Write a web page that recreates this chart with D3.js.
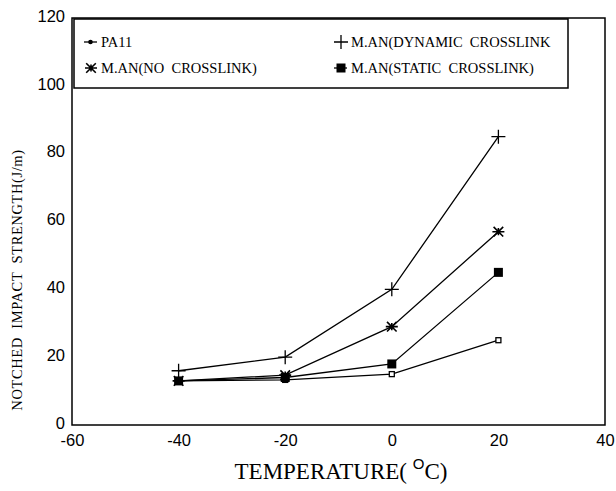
<!DOCTYPE html>
<html>
<head>
<meta charset="utf-8">
<script src="https://cdn.jsdelivr.net/npm/d3@7"></script>
<style>
  body { margin: 0; background: #fff; }
  svg text { fill: #000; }
</style>
</head>
<body>
<svg id="chart" width="616" height="491"></svg>
<script>
var temps = [-40, -20, 0, 20];
var pa11 = [13, 13.3, 15, 25];
var dynamic = [16, 20, 40, 85];
var noCross = [13, 14.7, 29, 57];
var staticCross = [13, 14, 18, 45];
var xTicks = [-60, -40, -20, 0, 20, 40];
var yTicks = [0, 20, 40, 60, 80, 100, 120];

var series = [
  { name: 'PA11', values: pa11, mark: 'open' },
  { name: 'M.AN(DYNAMIC  CROSSLINK', values: dynamic, mark: 'plus' },
  { name: 'M.AN(NO  CROSSLINK)', values: noCross, mark: 'star' },
  { name: 'M.AN(STATIC  CROSSLINK)', values: staticCross, mark: 'square' }
];

(function(){
var svg = d3.select('#chart'),
  pLeft = 72, pRight = 605, pTop = 18, pBottom = 425;

var x = d3.scaleLinear().domain([-60, 40]).range([pLeft, pRight]);
var y = d3.scaleLinear().domain([0, 120]).range([pBottom, pTop]);

// frame
svg.append('rect')
  .attr('x', pLeft).attr('y', pTop)
  .attr('width', pRight - pLeft).attr('height', pBottom - pTop)
  .attr('fill', 'none').attr('stroke', '#000').attr('stroke-width', 1.5);

// axes (labels only, no tick marks)
var xAxis = svg.append('g').attr('transform', 'translate(0,' + pBottom + ')')
  .call(d3.axisBottom(x).tickValues(xTicks).tickFormat(String).tickSize(0).tickPadding(9));
var yAxis = svg.append('g').attr('transform', 'translate(' + pLeft + ',0)')
  .call(d3.axisLeft(y).tickValues(yTicks).tickFormat(String).tickSize(0).tickPadding(7));
[xAxis, yAxis].forEach(function(a){
  a.select('.domain').remove();
  a.selectAll('text').attr('font-family', 'Liberation Sans, Arial, sans-serif')
    .attr('font-size', 16.5).attr('fill', '#000');
});
yAxis.selectAll('text').attr('dy', '0.2em');

var drawMark = function(g, type, cx, cy){
  if(type === 'open'){
    g.append('rect').attr('x', cx - 2.5).attr('y', cy - 2.5).attr('width', 5).attr('height', 5)
      .attr('fill', '#fff').attr('stroke', '#000').attr('stroke-width', 1.3);
  } else if(type === 'square'){
    g.append('rect').attr('x', cx - 4.5).attr('y', cy - 4.5).attr('width', 9).attr('height', 9)
      .attr('fill', '#000');
  } else if(type === 'plus'){
    g.append('path').attr('d', 'M' + (cx - 7) + ',' + cy + 'h14M' + cx + ',' + (cy - 7) + 'v14')
      .attr('stroke', '#000').attr('stroke-width', 1.3);
  } else if(type === 'star'){
    var r = 6;
    g.append('path')
      .attr('d', 'M' + (cx - r) + ',' + cy + 'h' + 2 * r +
        'M' + (cx - r * 0.8) + ',' + (cy - r * 0.8) + 'l' + 1.6 * r + ',' + 1.6 * r +
        'M' + (cx - r * 0.8) + ',' + (cy + r * 0.8) + 'l' + 1.6 * r + ',' + (-1.6 * r) +
        'M' + cx + ',' + (cy - r * 0.6) + 'v' + 1.2 * r)
      .attr('stroke', '#000').attr('stroke-width', 1.6);
  }
};

var line = d3.line().x(function(d, i){ return x(temps[i]); }).y(function(d){ return y(d); });

series.forEach(function(s){
  var g = svg.append('g');
  g.append('path').attr('d', line(s.values))
    .attr('fill', 'none').attr('stroke', '#000').attr('stroke-width', 1.3);
  s.values.forEach(function(v, i){ drawMark(g, s.mark, x(temps[i]), y(v)); });
});

// legend
var lg = svg.append('g');
lg.append('rect').attr('x', 74).attr('y', 19).attr('width', 494).attr('height', 69)
  .attr('fill', '#fff').attr('stroke', '#000').attr('stroke-width', 1.5);
var legendPos = [[84, 42], [334, 42], [84, 68], [334, 68]];
series.forEach(function(s, i){
  var p = legendPos[i], g = lg.append('g');
  if(s.mark === 'open'){
    g.append('line').attr('x1', p[0]).attr('x2', p[0] + 13).attr('y1', p[1]).attr('y2', p[1])
      .attr('stroke', '#000').attr('stroke-width', 1.3);
    g.append('circle').attr('cx', p[0] + 6.5).attr('cy', p[1]).attr('r', 2.3).attr('fill', '#000');
  } else if(s.mark === 'square'){
    g.append('line').attr('x1', p[0]).attr('x2', p[0] + 13).attr('y1', p[1]).attr('y2', p[1])
      .attr('stroke', '#000').attr('stroke-width', 1.3);
    drawMark(g, 'square', p[0] + 7, p[1]);
  } else {
    drawMark(g, s.mark, p[0] + 7, p[1]);
  }
  g.append('text').attr('x', p[0] + 17).attr('y', p[1] + 5)
    .attr('font-family', 'Liberation Serif, Times New Roman, serif').attr('font-size', 14.5)
    .style('white-space', 'pre').text(s.name);
});

// axis titles
svg.append('text').attr('transform', 'translate(22,280) rotate(-90)')
  .attr('text-anchor', 'middle')
  .attr('font-family', 'Liberation Serif, Times New Roman, serif').attr('font-size', 14.5)
  .attr('letter-spacing', 0.6)
  .style('white-space', 'pre').text('NOTCHED  IMPACT  STRENGTH(J/m)');

var xt = svg.append('text').attr('x', 341).attr('y', 479).attr('text-anchor', 'middle')
  .attr('font-family', 'Liberation Serif, Times New Roman, serif').attr('font-size', 23)
  .style('white-space', 'pre');
xt.append('tspan').text('TEMPERATURE( ');
xt.append('tspan').attr('dy', -10).attr('font-size', 15).attr('font-family', 'Liberation Sans, Arial, sans-serif').text('O');
xt.append('tspan').attr('dy', 10).text('C)');
})();
</script>
</body>
</html>
